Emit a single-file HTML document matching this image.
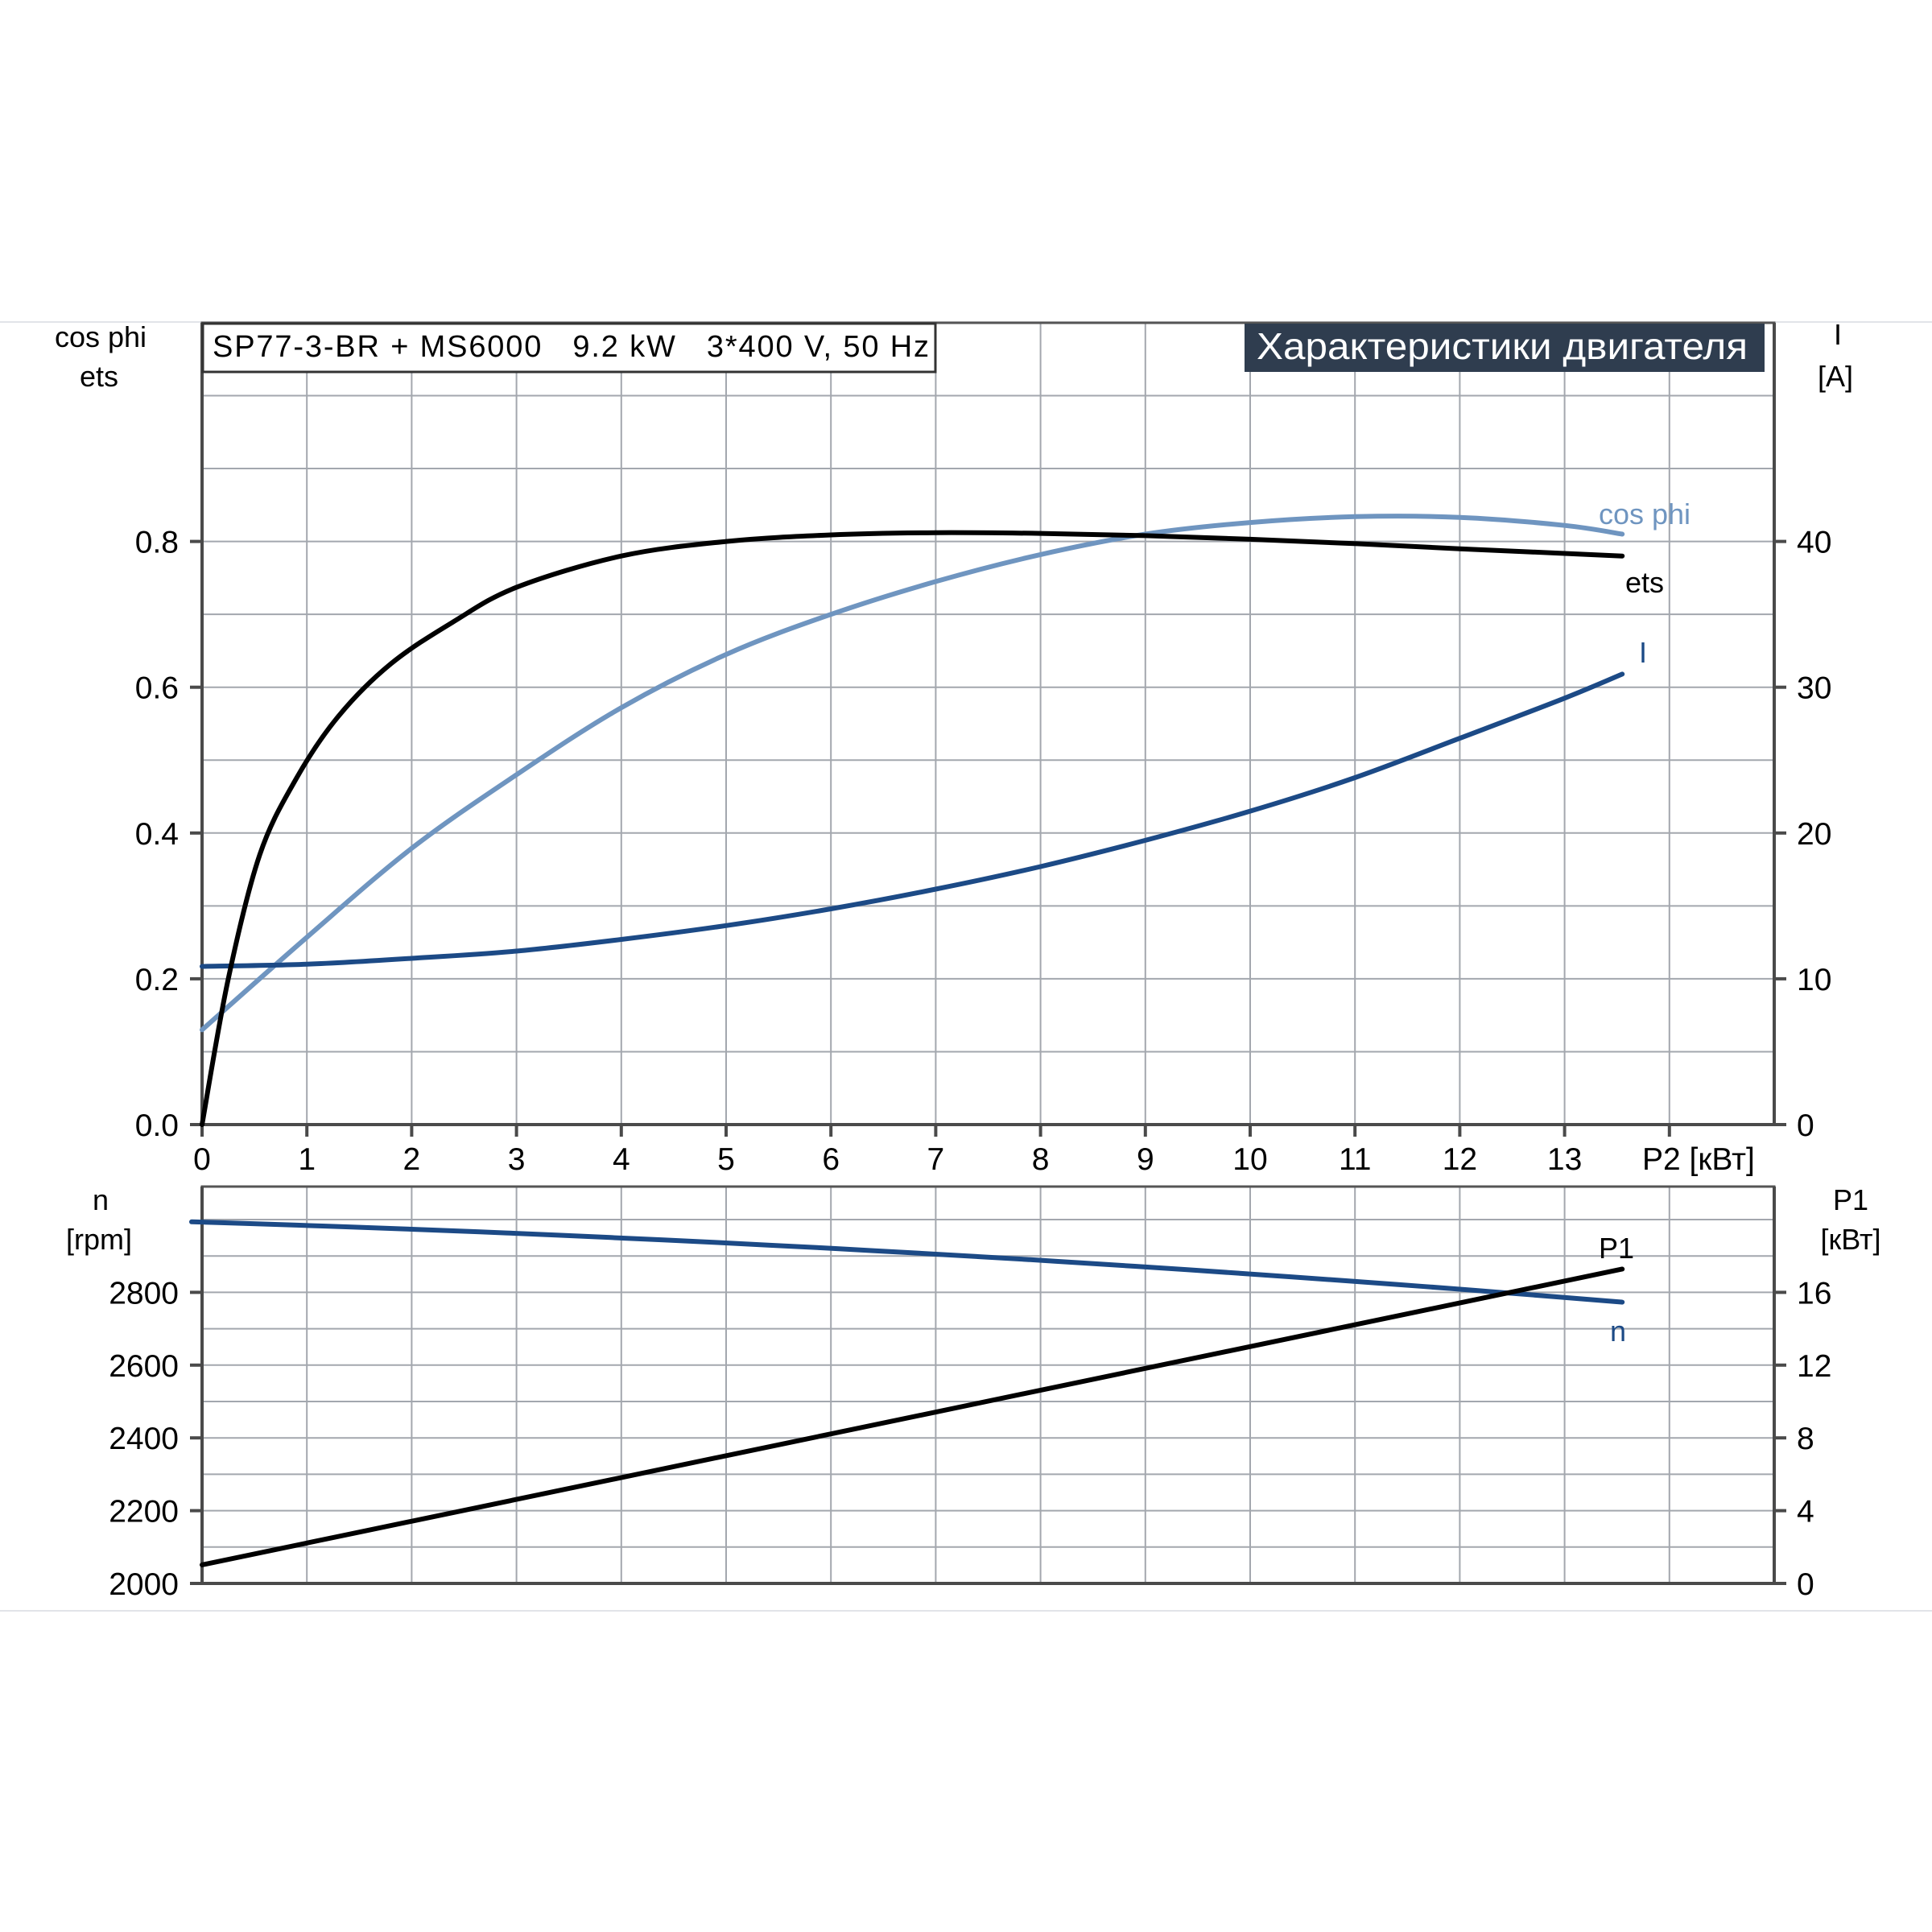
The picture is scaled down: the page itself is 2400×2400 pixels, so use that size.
<!DOCTYPE html>
<html><head><meta charset="utf-8"><style>
html,body{margin:0;padding:0;background:#fff;}
svg{display:block;font-family:"Liberation Sans","DejaVu Sans",sans-serif;}
text{white-space:pre;}
</style></head><body>
<svg id="s" width="2400" height="2400" viewBox="0 0 2400 2400" xmlns="http://www.w3.org/2000/svg" xml:space="preserve">
<line x1="0" y1="400" x2="2400" y2="400" stroke="#e2e4e8" stroke-width="2"/>
<line x1="0" y1="2001" x2="2400" y2="2001" stroke="#e2e4e8" stroke-width="2"/>
<g id="grid" stroke="#a3a7ae" stroke-width="2"></g>
<g id="axes" stroke="#4a4a4a" stroke-width="4" fill="none"></g>
<rect x="252" y="402" width="910" height="60" fill="#fff" stroke="#333" stroke-width="3"/>
<text x="264" y="443" font-size="38" fill="#000" textLength="890" lengthAdjust="spacing">SP77-3-BR + MS6000   9.2 kW   3*400 V, 50 Hz</text>
<rect x="1546" y="402" width="646" height="60" fill="#2f3d4f"/>
<text x="1561" y="446" font-size="46" fill="#fff" textLength="610" lengthAdjust="spacingAndGlyphs">Характеристики двигателя</text>
<g id="labels" font-size="39" fill="#000"></g>
<g id="curves" fill="none" stroke-width="6" stroke-linejoin="round" stroke-linecap="round"></g>
<text x="125" y="431" font-size="36" text-anchor="middle">cos phi</text>
<text x="123" y="480" font-size="36" text-anchor="middle">ets</text>
<text x="2283" y="428" font-size="36" text-anchor="middle">I</text>
<text x="2280" y="480" font-size="36" text-anchor="middle">[A]</text>
<text x="125" y="1503" font-size="36" text-anchor="middle">n</text>
<text x="123" y="1552" font-size="36" text-anchor="middle">[rpm]</text>
<text x="2299" y="1503" font-size="36" text-anchor="middle">P1</text>
<text x="2299" y="1552" font-size="36" text-anchor="middle">[кВт]</text>
<text x="2043" y="651" font-size="36" text-anchor="middle" fill="#6f95c0">cos phi</text>
<text x="2043" y="736" font-size="36" text-anchor="middle" fill="#000">ets</text>
<text x="2041" y="823" font-size="36" text-anchor="middle" fill="#1c4a86">I</text>
<text x="2008" y="1563" font-size="36" text-anchor="middle" fill="#000">P1</text>
<text x="2010" y="1666" font-size="36" text-anchor="middle" fill="#1c4a86">n</text>
</svg>
<script>
var NS="http://www.w3.org/2000/svg";
function X(v){return 251+130.2*v;}
function YU(v){return 1397-905.5*v;}
function YL(r){return 1967-(r-2000)*0.452;}
function el(p,tag,a,t){var e=document.createElementNS(NS,tag);for(var k in a)e.setAttribute(k,a[k]);if(t!=null)e.textContent=t;document.getElementById(p).appendChild(e);return e;}
for(var i=1;i<=14;i++){el("grid","line",{x1:X(i),y1:401,x2:X(i),y2:1397});el("grid","line",{x1:X(i),y1:1474,x2:X(i),y2:1967});}
for(var j=1;j<=10;j++){el("grid","line",{x1:251,y1:YU(j*0.1),x2:2204,y2:YU(j*0.1)});}
for(var r=2100;r<=3000;r+=100){el("grid","line",{x1:251,y1:YL(r),x2:2204,y2:YL(r)});}
el("axes","rect",{x:251,y:401,width:1953,height:996,stroke:"#555","stroke-width":3});
el("axes","line",{x1:251,y1:1397,x2:2204,y2:1397});
el("axes","line",{x1:251,y1:401,x2:251,y2:1397});
el("axes","line",{x1:2204,y1:401,x2:2204,y2:1397});
el("axes","rect",{x:251,y:1474,width:1953,height:493,stroke:"#555","stroke-width":3});
el("axes","line",{x1:251,y1:1967,x2:2204,y2:1967});
el("axes","line",{x1:251,y1:1474,x2:251,y2:1967});
el("axes","line",{x1:2204,y1:1474,x2:2204,y2:1967});
for(var i=0;i<=14;i++){el("axes","line",{x1:X(i),y1:1397,x2:X(i),y2:1412});
 if(i==14) el("labels","text",{x:2040,y:1453},"P2 [кВт]");
 else el("labels","text",{x:X(i),y:1453,"text-anchor":"middle"},String(i));}
var lv=["0.0","0.2","0.4","0.6","0.8"];
for(var k=0;k<5;k++){var y=YU(k*0.2);el("axes","line",{x1:236,y1:y,x2:251,y2:y});el("axes","line",{x1:2204,y1:y,x2:2219,y2:y});
 el("labels","text",{x:222,y:y+14,"text-anchor":"end"},lv[k]);el("labels","text",{x:2232,y:y+14},String(k*10));}
for(var k=0;k<5;k++){var r=2000+k*200,y=YL(r);el("axes","line",{x1:236,y1:y,x2:251,y2:y});el("axes","line",{x1:2204,y1:y,x2:2219,y2:y});
 el("labels","text",{x:222,y:y+14,"text-anchor":"end"},String(r));el("labels","text",{x:2232,y:y+14},String(k*4));}
function path(pts){var d="M"+pts[0][0]+","+pts[0][1];
 for(var i=0;i<pts.length-1;i++){var p0=pts[Math.max(0,i-1)],p1=pts[i],p2=pts[i+1],p3=pts[Math.min(pts.length-1,i+2)];
  var c1=[p1[0]+(p2[0]-p0[0])/6,p1[1]+(p2[1]-p0[1])/6],c2=[p2[0]-(p3[0]-p1[0])/6,p2[1]-(p3[1]-p1[1])/6];
  d+=" C"+c1[0].toFixed(1)+","+c1[1].toFixed(1)+" "+c2[0].toFixed(1)+","+c2[1].toFixed(1)+" "+p2[0].toFixed(1)+","+p2[1].toFixed(1);}
 return d;}
function curve(data,fy,col){var pts=data.map(function(p){return [X(p[0]),fy(p[1])];});el("curves","path",{d:path(pts),stroke:col});}
curve([[0,0.13],[1,0.257],[2,0.379],[3,0.48],[4,0.572],[5,0.645],[6,0.70],[7,0.745],[8,0.782],[9,0.81],[10,0.826],[11,0.834],[12,0.833],[13,0.822],[13.55,0.81]],YU,"#6f95c0");
curve([[0,0.217],[1,0.22],[2,0.228],[3,0.238],[4,0.254],[5,0.273],[6,0.296],[7,0.323],[8,0.354],[9,0.39],[10,0.43],[11,0.476],[12,0.53],[13,0.585],[13.55,0.618]],YU,"#1c4a86");
curve([[0,0],[0.25,0.2],[0.55,0.37],[0.9,0.475],[1.3,0.56],[1.8,0.632],[2.4,0.69],[3,0.737],[4,0.78],[5,0.8],[6,0.809],[7,0.812],[8,0.811],[9,0.808],[10,0.803],[11,0.797],[12,0.79],[13.55,0.78]],YU,"#000");
var nd=[];for(var x=-0.1;x<=13.56;x+=0.5){nd.push([x,2993-8.65*x-0.56*x*x]);}nd.push([13.55,2993-8.65*13.55-0.56*13.55*13.55]);
curve(nd,YL,"#1c4a86");
el("curves","path",{d:"M"+X(0)+","+YL(2051)+" L"+X(13.55)+","+YL(2864),stroke:"#000"});
</script>
</body></html>
